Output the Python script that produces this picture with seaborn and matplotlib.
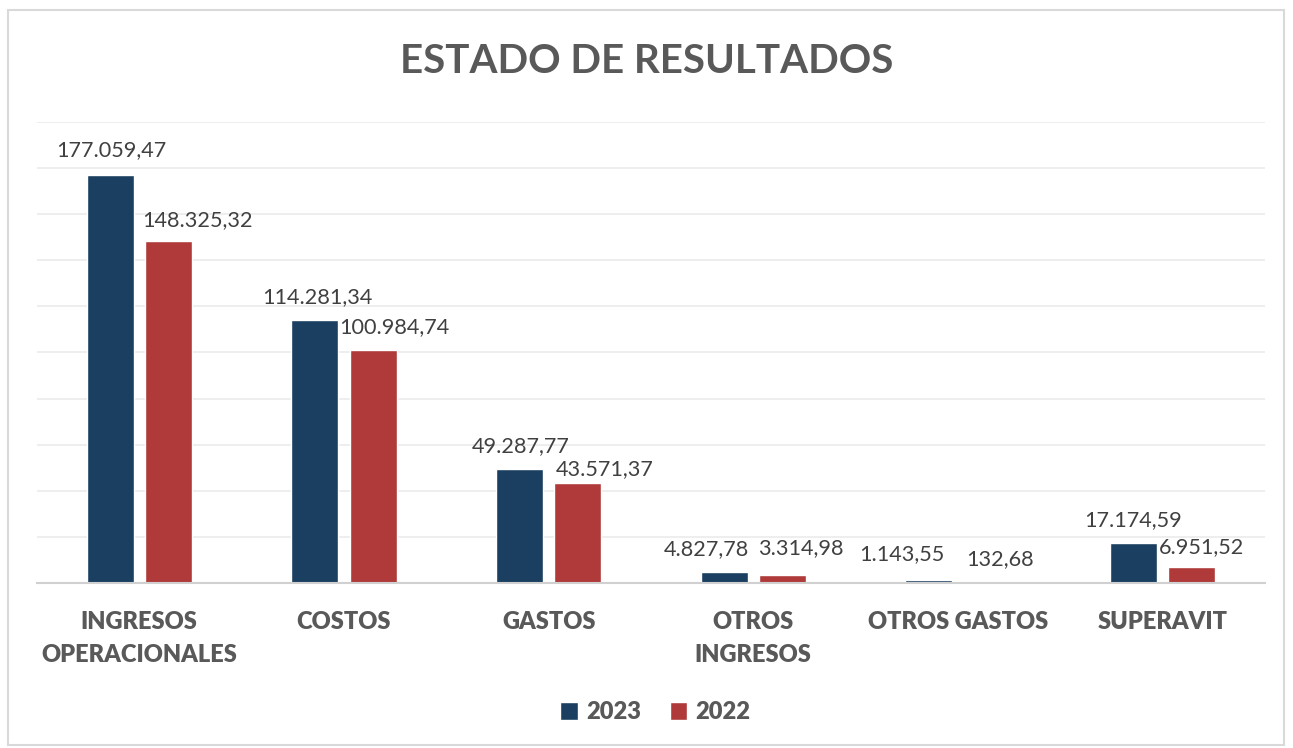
import pandas as pd
import matplotlib.pyplot as plt
import seaborn as sns
from matplotlib.patches import Rectangle

sns.set_theme(style='white')
plt.rcParams['font.family'] = ['Lato', 'DejaVu Sans']

# Data
categorias = ['INGRESOS\nOPERACIONALES', 'COSTOS', 'GASTOS', 'OTROS\nINGRESOS', 'OTROS GASTOS', 'SUPERAVIT']
valores_2023 = [177059.47, 114281.34, 49287.77, 4827.78, 1143.55, 17174.59]
valores_2022 = [148325.32, 100984.74, 43571.37, 3314.98, 132.68, 6951.52]
anios = ['2023', '2022']

df = pd.DataFrame({
    'categoria': categorias * 2,
    'valor': valores_2023 + valores_2022,
    'anio': ['2023'] * len(categorias) + ['2022'] * len(categorias),
})

colores = {'2023': '#1B3F61', '2022': '#B03A3A'}
gris = '#595959'

fig = plt.figure(figsize=(12.93, 7.48), dpi=100)
ax = fig.add_axes([0.0286, 0.2206, 0.9497, 0.6163])

sns.barplot(data=df, x='categoria', y='valor', hue='anio', hue_order=anios,
            palette=colores, width=0.572, gap=0.197, ax=ax, saturation=1)

ax.set_ylim(0, 200000)
ax.set_xlim(-0.5, len(categorias) - 0.5)
ax.set_yticks(range(0, 200001, 20000))
ax.yaxis.grid(True, color='#EBEBEB', linewidth=1.2)
ax.set_axisbelow(True)
ax.tick_params(axis='y', left=False, labelleft=False)
ax.tick_params(axis='x', bottom=False, pad=14)
for s in ['top', 'right', 'left']:
    ax.spines[s].set_visible(False)
ax.spines['bottom'].set_color('#D0D0D0')
ax.spines['bottom'].set_linewidth(1.5)
ax.set_xlabel('')
ax.set_ylabel('')
ax.set_xticks(range(len(categorias)))
ax.set_xticklabels(categorias, fontsize=17, fontweight='heavy', color=gris,
                   va='top', linespacing=1.6)

def fmt(v):
    s = f'{v:,.2f}'
    return s.replace(',', 'X').replace('.', ',').replace('X', '.')

# label offsets (points) to mimic the spreadsheet's label placement
dx_2023 = [1, 2, 1, -13, -19, 0]
dx_2022 = [21, 15, 19, 13, 9, 7]
dy_2023 = [18, 16.5, 17, 16.5, 19, 17]
dy_2022 = [15, 16.5, 10, 19.5, 17, 14]

for cont, vals, dxs, dys in zip(ax.containers, [valores_2023, valores_2022],
                                [dx_2023, dx_2022], [dy_2023, dy_2022]):
    for bar, v, dx, dy in zip(cont, vals, dxs, dys):
        x = bar.get_x() + bar.get_width() / 2
        ax.annotate(fmt(v), (x, bar.get_height()), xytext=(dx, dy),
                    textcoords='offset points', ha='center', va='center',
                    fontsize=15.6, color='#404040')

fig.text(0.5, 0.918, 'ESTADO DE RESULTADOS', ha='center', va='center',
         fontsize=29, fontweight='bold', color=gris)

handles, labels = ax.get_legend_handles_labels()
ax.legend_.remove()
leg = fig.legend(handles, labels, loc='center', bbox_to_anchor=(0.507, 0.048),
                 ncol=2, frameon=False, handlelength=0.75, handleheight=0.75,
                 handletextpad=0.35, columnspacing=1.2,
                 prop={'size': 17, 'weight': 'heavy'})
for t in leg.get_texts():
    t.set_color(gris)

fig.patches.append(Rectangle((0.006, 0.004), 0.987, 0.983, transform=fig.transFigure,
                             fill=False, edgecolor='#D9D9D9', linewidth=1.5))

fig.savefig('out.png', dpi=100, facecolor='white')
